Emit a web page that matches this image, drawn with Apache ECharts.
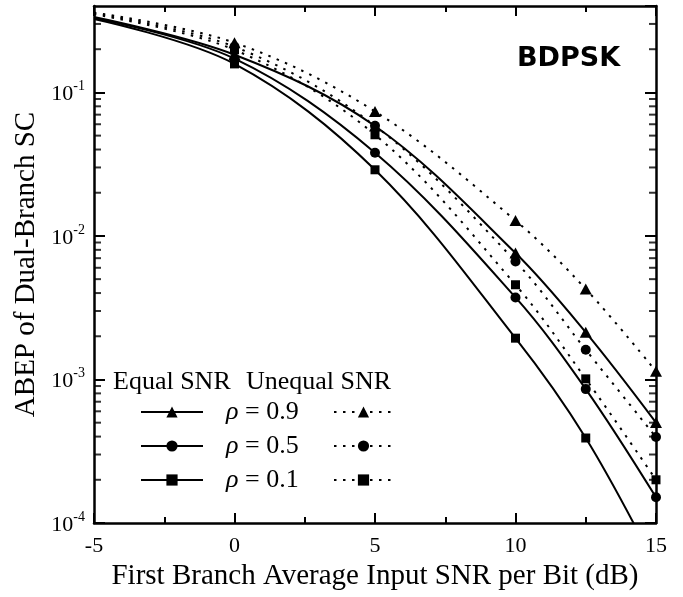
<!DOCTYPE html>
<html><head><meta charset="utf-8">
<script src="https://cdn.jsdelivr.net/npm/echarts@6/dist/echarts.min.js"></script>
<style>html,body{margin:0;padding:0;background:#fff}#c{width:683px;height:597px}</style>
</head><body><div id="c"></div>
<script>
// ---- data ----
const snrDb = [-5, 0, 5, 10, 12.5, 15];
const equal09   = [0.335, 0.183, 0.0583, 0.0076, 0.00213, 0.000501];
const equal05   = [0.330, 0.172, 0.038, 0.00373, 0.000857, 0.000151];
const equal01   = [0.325, 0.158, 0.0289, 0.00194, 0.000391, 0.00005];
const unequal09 = [0.360, 0.222, 0.0737, 0.0128, 0.00427, 0.00114];
const unequal05 = [0.355, 0.208, 0.0585, 0.00664, 0.00161, 0.000397];
const unequal01 = [0.350, 0.198, 0.0507, 0.00457, 0.00101, 0.0002];
const rhoLabels = ['ρ = 0.9', 'ρ = 0.5', 'ρ = 0.1'];
const yMinorTicks = [0.0002,0.0003,0.0004,0.0005,0.0006,0.0007,0.0008,0.0009,
  0.002,0.003,0.004,0.005,0.006,0.007,0.008,0.009,
  0.02,0.03,0.04,0.05,0.06,0.07,0.08,0.09,
  0.2,0.3];
const xLabel = 'First Branch Average Input SNR per Bit (dB)';
const yLabel = 'ABEP of Dual-Branch SC';

// ---- chart ----
const FONT = 'Liberation Serif';
const chart = echarts.init(document.getElementById('c'), null, {renderer: 'canvas'});

function mkData(vals) {
  return snrDb.map((x, i) => x < 0 ? {value: [x, vals[i]], symbol: 'none'} : [x, vals[i]]);
}
const symbols = ['triangle', 'circle', 'rect'];
const symSizes = [[12, 11], 10, 9];
const eq = [equal09, equal05, equal01];
const uneq = [unequal09, unequal05, unequal01];
const series = [];
eq.forEach((v, k) => series.push({
  name: rhoLabels[k], type: 'line', data: mkData(v), smooth: 0.35,
  symbol: symbols[k], symbolSize: symSizes[k], showAllSymbol: true,
  lineStyle: {color: '#000', width: 2, type: 'solid'},
  itemStyle: {color: '#000'}, emphasis: {disabled: true}, z: 3
}));
uneq.forEach((v, k) => series.push({
  name: 'Unequal ' + rhoLabels[k], type: 'line', data: mkData(v), smooth: 0.35,
  symbol: symbols[k], symbolSize: symSizes[k], showAllSymbol: true,
  lineStyle: {color: '#000', width: 2, type: [2.5, 6.5]},
  itemStyle: {color: '#000'}, emphasis: {disabled: true}, z: 4
}));
// minor log ticks (left and right)
series.push({
  type: 'scatter', silent: true, clip: false, symbol: 'rect', symbolSize: [7, 2],
  symbolOffset: [3.5, 0], itemStyle: {color: '#000'},
  data: yMinorTicks.map(v => [-5, v]), z: 5
});
series.push({
  type: 'scatter', silent: true, clip: false, symbol: 'rect', symbolSize: [7, 2],
  symbolOffset: [-3.5, 0], itemStyle: {color: '#000'},
  data: yMinorTicks.map(v => [15, v]), z: 5
});

function logLabel(v) {
  const e = Math.log10(v);
  const r = Math.round(e);
  if (Math.abs(e - r) > 1e-6) return '';
  return '{b|10}{s|' + r + '}';
}
const axisLineStyle = {onZero: false, lineStyle: {color: '#000', width: 2.5}};

const legendText = {
  fontFamily: FONT, fontSize: 26, color: '#000', lineHeight: 24,
  rich: {
    sp: {width: 18, lineHeight: 24},
    n: {fontFamily: FONT, fontSize: 26, color: '#000', lineHeight: 24},
    i: {fontStyle: 'italic', fontFamily: FONT, fontSize: 26, color: '#000', lineHeight: 24}
  }
};

const option = {
  backgroundColor: '#fff',
  animation: false,
  textStyle: {fontFamily: FONT, color: '#000'},
  grid: {left: 94, right: 27, top: 6, bottom: 74, containLabel: false},
  xAxis: [{
    type: 'value', min: -5, max: 15, interval: 5, position: 'bottom',
    axisLine: axisLineStyle,
    axisTick: {inside: true, length: 10, lineStyle: {color: '#000', width: 2}},
    minorTick: {show: true, splitNumber: 2, length: 6, lineStyle: {color: '#000', width: 2}},
    splitLine: {show: false}, minorSplitLine: {show: false},
    axisLabel: {color: '#000', fontFamily: FONT, fontSize: 22, margin: 12},
    name: xLabel, nameLocation: 'middle', nameGap: 37,
    nameTextStyle: {color: '#000', fontFamily: FONT, fontSize: 29}
  }, {
    type: 'value', min: -5, max: 15, interval: 5, position: 'top',
    axisLine: axisLineStyle,
    axisTick: {inside: true, length: 10, lineStyle: {color: '#000', width: 2}},
    minorTick: {show: true, splitNumber: 2, length: 6, lineStyle: {color: '#000', width: 2}},
    splitLine: {show: false}, minorSplitLine: {show: false},
    axisLabel: {show: false}
  }],
  yAxis: [{
    type: 'log', logBase: 10, min: 0.0001, max: 0.4, position: 'left',
    axisLine: axisLineStyle,
    axisTick: {inside: true, length: 11, lineStyle: {color: '#000', width: 2}},
    splitLine: {show: false},
    axisLabel: {
      color: '#000', margin: 9, formatter: logLabel, showMaxLabel: false,
      rich: {
        b: {fontFamily: FONT, fontSize: 22, color: '#000', padding: [4, 0, 0, 0]},
        s: {fontFamily: FONT, fontSize: 14, color: '#000', padding: [0, 0, 12, 0]}
      }
    },
    name: yLabel, nameLocation: 'middle', nameGap: 48,
    nameTextStyle: {color: '#000', fontFamily: FONT, fontSize: 29}
  }, {
    type: 'log', logBase: 10, min: 0.0001, max: 0.4, position: 'right',
    axisLine: axisLineStyle,
    axisTick: {inside: true, length: 11, lineStyle: {color: '#000', width: 2}},
    splitLine: {show: false},
    axisLabel: {show: false}
  }],
  legend: [{
    data: rhoLabels, orient: 'vertical', left: 140, top: 399, padding: 0,
    itemWidth: 62, itemHeight: 14, itemGap: 8,
    selectedMode: false,
    formatter: n => '{sp|}{i|ρ}{n|' + n.slice(1) + '}',
    textStyle: legendText
  }, {
    data: rhoLabels.map(n => 'Unequal ' + n), orient: 'vertical', left: 333, top: 399, padding: 0,
    itemWidth: 59, itemHeight: 14, itemGap: 8,
    selectedMode: false,
    formatter: () => '{sp|}',
    textStyle: legendText
  }],
  graphic: [
    {type: 'text', left: 113, top: 369, style: {text: 'Equal SNR', font: '26px "Liberation Serif"', fill: '#000'}},
    {type: 'text', left: 246, top: 369, style: {text: 'Unequal SNR', font: '26px "Liberation Serif"', fill: '#000'}},
    {type: 'text', left: 517, top: 45, style: {text: 'BDPSK', font: 'bold 27px "DejaVu Sans"', fill: '#000'}}
  ],
  series: series
};
chart.setOption(option);
</script>
</body></html>
